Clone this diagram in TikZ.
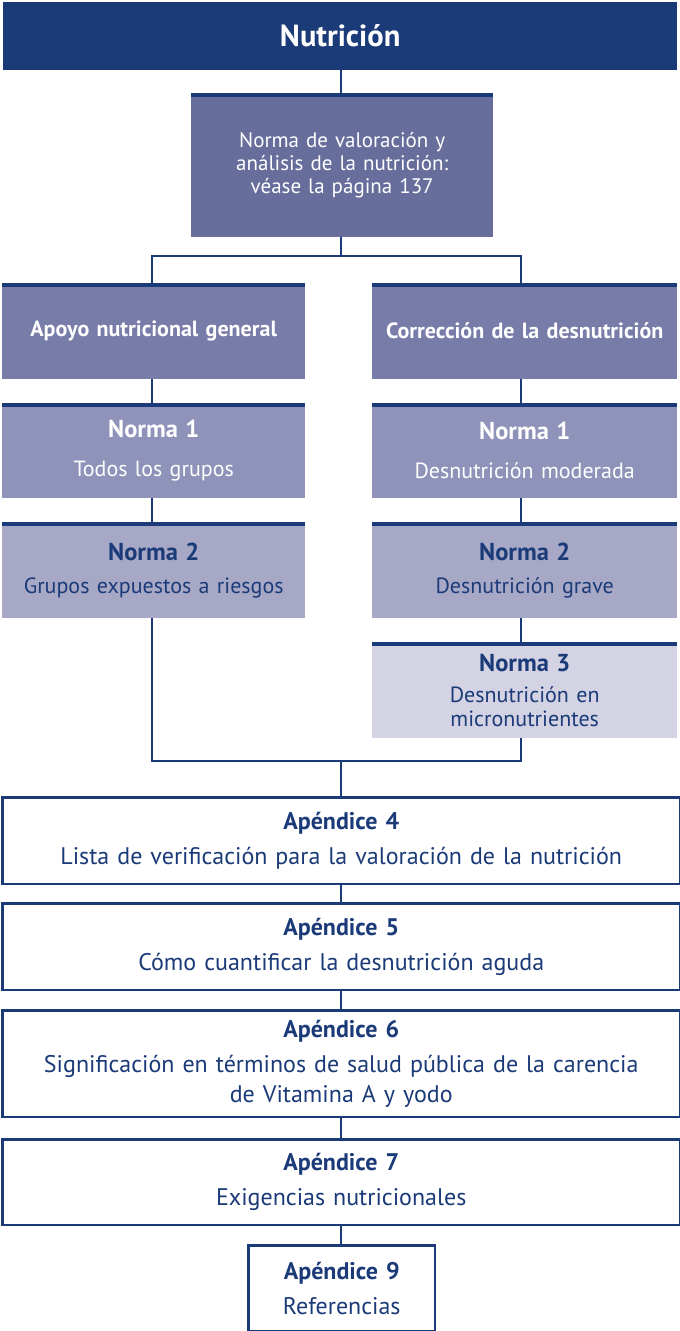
\documentclass[tikz,border=0pt]{standalone}
\usepackage{fontspec}
\setmainfont{PT Sans}
\definecolor{navy}{HTML}{1B3A78}
\definecolor{c0}{HTML}{676E9C}
\definecolor{c1}{HTML}{787CA8}
\definecolor{c2}{HTML}{8F92B9}
\definecolor{c3}{HTML}{A6A8C6}
\definecolor{c4}{HTML}{D3D3E3}
\tikzset{
  bx/.style={anchor=north west, inner sep=0pt, align=center},
  topbar/.style={path picture={\fill[navy] (path picture bounding box.north west) rectangle ([yshift=-4pt]path picture bounding box.north east);}},
  appbox/.style={bx, draw=navy, line width=2.5pt, fill=white, text=navy, font=\fontsize{24}{35}\selectfont},
  conn/.style={draw=navy, line width=1.3pt},
}
\newcommand\hd[2]{{\fontsize{#1}{#2}\selectfont\bfseries}}
\begin{document}
\begin{tikzpicture}[x=1pt,y=-1pt]
\useasboundingbox (0,0) rectangle (680,1331);
% title
\node[bx, fill=navy, text=white, text width=674pt, minimum height=68pt, font=\fontsize{30.5}{34}\selectfont\bfseries] (title) at (3,2) {Nutrición};
\node[bx, topbar, fill=c0, text=white, text width=302pt, minimum height=144pt, font=\fontsize{21}{23}\selectfont] (val) at (191,93) {Norma de valoración y\\análisis de la nutrición:\\véase la página 137};
% columns
\node[bx, topbar, fill=c1, text=white, text width=303pt, minimum height=96pt, font=\fontsize{22}{25}\selectfont\bfseries] (apoyo) at (2,283) {Apoyo nutricional general};
\node[bx, topbar, fill=c1, text=white, text width=305pt, minimum height=96pt, font=\fontsize{22}{25}\selectfont\bfseries] (corr) at (372,283) {Corrección de la desnutrición};
\node[bx, topbar, fill=c2, text=white, text width=303pt, minimum height=95pt, font=\fontsize{22}{39}\selectfont] (n1l) at (2,403) {{\fontsize{24.5}{39}\selectfont\bfseries Norma 1}\\Todos los grupos};
\node[bx, topbar, fill=c2, text=white, text width=305pt, minimum height=95pt, font=\fontsize{22}{39}\selectfont] (n1r) at (372,403) {{\fontsize{24.5}{39}\selectfont\bfseries Norma 1}\\Desnutrición moderada};
\node[bx, topbar, fill=c3, text=navy, text width=303pt, minimum height=96pt, font=\fontsize{22}{33}\selectfont] (n2l) at (2,522) {{\fontsize{24.5}{33}\selectfont\bfseries Norma 2}\\Grupos expuestos a riesgos};
\node[bx, topbar, fill=c3, text=navy, text width=305pt, minimum height=96pt, font=\fontsize{22}{33}\selectfont] (n2r) at (372,522) {{\fontsize{24.5}{33}\selectfont\bfseries Norma 2}\\Desnutrición grave};
\node[bx, topbar, fill=c4, text=navy, text width=305pt, minimum height=96pt, font=\fontsize{22}{24}\selectfont] (n3r) at (372,642) {{\fontsize{24.5}{24}\selectfont\bfseries Norma 3}\\[7pt]Desnutrición en\\micronutrientes};
% appendices
\node[appbox, text width=677.5pt, minimum height=86.5pt] (a4) at (1.25,796.25) {{\bfseries Apéndice 4}\\Lista de verificación para la valoración de la nutrición};
\node[appbox, text width=677.5pt, minimum height=86.5pt] (a5) at (1.25,902.25) {{\bfseries Apéndice 5}\\Cómo cuantificar la desnutrición aguda};
\node[appbox, text width=677.5pt, minimum height=106.5pt] (a6) at (1.25,1009.25) {{\bfseries Apéndice 6}\\Significación en términos de salud pública de la carencia\\[-5pt]de Vitamina A y yodo};
\node[appbox, text width=677.5pt, minimum height=85.5pt] (a7) at (1.25,1138.25) {{\bfseries Apéndice 7}\\Exigencias nutricionales};
\node[appbox, text width=186.5pt, minimum height=85.5pt] (a9) at (247.25,1244.25) {{\bfseries Apéndice 9}\\Referencias};
% connectors
\coordinate (j1) at (341,256);
\coordinate (j2) at (341,761);
\draw[conn] (title.south -| j1) -- (val.north -| j1);
\draw[conn] (val.south -| j1) -- (j1);
\draw[conn] (apoyo.north -| 152,0) |- (j1) -| (corr.north -| 521,0);
\draw[conn] (apoyo.south -| 152,0) -- (n1l.north -| 152,0);
\draw[conn] (n1l.south -| 152,0) -- (n2l.north -| 152,0);
\draw[conn] (corr.south -| 521,0) -- (n1r.north -| 521,0);
\draw[conn] (n1r.south -| 521,0) -- (n2r.north -| 521,0);
\draw[conn] (n2r.south -| 521,0) -- (n3r.north -| 521,0);
\draw[conn] (n2l.south -| 152,0) |- (j2) -| (n3r.south -| 521,0);
\draw[conn] (j2) -- (a4.north -| j2);
\draw[conn] (a4.south -| j2) -- (a5.north -| j2);
\draw[conn] (a5.south -| j2) -- (a6.north -| j2);
\draw[conn] (a6.south -| j2) -- (a7.north -| j2);
\draw[conn] (a7.south -| j2) -- (a9.north -| j2);
\end{tikzpicture}
\end{document}
